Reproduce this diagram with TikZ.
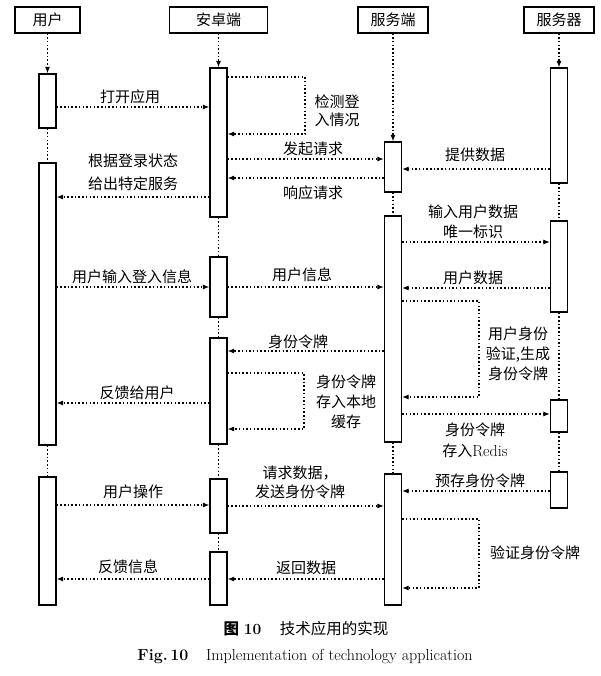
\documentclass[tikz,border=0pt]{standalone}
\usepackage{fontspec}
\newfontfamily\cjk{Noto Sans CJK SC}
\usepackage{tikz}
\usetikzlibrary{arrows.meta}

\begin{document}
\begin{tikzpicture}[x=1pt, y=-1pt,
  head/.style={draw, line width=1.2pt, minimum height=26pt, inner sep=0pt, font=\cjk\fontsize{15}{20}\selectfont},
  act/.style={draw, line width=1.2pt, minimum width=17pt, inner sep=0pt},
  life/.style={line width=1.1pt, dash pattern=on 1.5pt off 2.2pt},
  msg/.style={life, -{Latex[length=6.5pt,width=5pt]}},
  lbl/.style={align=center, inner sep=0pt, font=\cjk\fontsize{15}{20}\selectfont}
]
\useasboundingbox (0,0) rectangle (600,676);
% headers
\node[head, minimum width=65pt](hu) at (47.5,20) {用户};
\node[head, minimum width=98pt](ha) at (218.5,20) {安卓端};
\node[head, minimum width=70pt](hs) at (393,20) {服务端};
\node[head, minimum width=70pt](hr) at (559,20) {服务器};
% activations
\node[act, minimum height=54pt](u1) at (47.5,101) {};
\node[act, minimum height=282pt](u2) at (47.5,304) {};
\node[act, minimum height=128pt](u3) at (47.5,541) {};
\node[act, minimum height=149pt](a1) at (218.5,142.5) {};
\node[act, minimum height=60pt](a2) at (218.5,287) {};
\node[act, minimum height=106pt](a3) at (218.5,391) {};
\node[act, minimum height=54pt](a4) at (218.5,506) {};
\node[act, minimum height=53pt](a5) at (218.5,578.5) {};
\node[act, minimum height=50pt](s1) at (393,167) {};
\node[act, minimum height=226pt](s2) at (393,329) {};
\node[act, minimum height=131pt](s3) at (393,539.5) {};
\node[act, minimum height=115pt](r1) at (559,125.5) {};
\node[act, minimum height=91pt](r2) at (559,266.5) {};
\node[act, minimum height=32pt](r3) at (559,416) {};
\node[act, minimum height=36pt](r4) at (559,490) {};
% lifelines
\foreach \a/\b in {hu/u1, ha/a1, hs/s1, hr/r1}
  \draw[msg] (\a) -- (\b);
\foreach \a/\b in {u1/u2, u2/u3, a1/a2, a2/a3, a3/a4, a4/a5, s1/s2, s2/s3, r1/r2, r2/r3, r3/r4}
  \draw[life] (\a) -- (\b);
% messages
\draw[msg] (u1.east |- 0,107) -- (a1.west |- 0,107);
\node[lbl] at (130,97) {打开应用};
\draw[msg] (a1.east |- 0,77) -- (305,77) -- (305,134) -- (a1.east |- 0,134);
\node[lbl, font=\cjk\fontsize{15}{18}\selectfont] at (337,111) {检测登\\入情况};
\draw[msg] (a1.east |- 0,159) -- (s1.west |- 0,159);
\node[lbl] at (313,149) {发起请求};
\draw[msg] (r1.west |- 0,169) -- (s1.east |- 0,169);
\node[lbl] at (475,155) {提供数据};
\draw[msg] (s1.west |- 0,178) -- (a1.east |- 0,178);
\node[lbl] at (313,193) {响应请求};
\draw[msg] (a1.west |- 0,197) -- (u2.east |- 0,197);
\node[lbl, font=\cjk\fontsize{15}{23}\selectfont] at (133,172) {根据登录状态\\给出特定服务};
\draw[msg] (s2.east |- 0,242) -- (r2.west |- 0,242);
\node[lbl] at (473,222) {输入用户数据\\唯一标识};
\draw[msg] (u2.east |- 0,287) -- (a2.west |- 0,287);
\node[lbl] at (132,277) {用户输入登入信息};
\draw[msg] (a2.east |- 0,287) -- (s2.west |- 0,287);
\node[lbl] at (302,275) {用户信息};
\draw[msg] (r2.west |- 0,288) -- (s2.east |- 0,288);
\node[lbl] at (473,278) {用户数据};
\draw[msg] (s2.east |- 0,301) -- (479,301) -- (479,397) -- (s2.east |- 0,397);
\node[lbl] at (518,353.5) {用户身份\\验证,生成\\身份令牌};
\draw[msg] (s2.west |- 0,351) -- (a3.east |- 0,351);
\node[lbl] at (298,342) {身份令牌};
\draw[msg] (a3.east |- 0,373) -- (304,373) -- (304,429) -- (a3.east |- 0,429);
\node[lbl] at (346,401.5) {身份令牌\\存入本地\\缓存};
\draw[msg] (a3.west |- 0,403) -- (u2.east |- 0,403);
\node[lbl] at (137,393) {反馈给用户};
\draw[msg] (s2.east |- 0,414) -- (r3.west |- 0,414);
\node[lbl, font=\cjk\fontsize{15}{21}\selectfont] at (475,440) {身份令牌\\存入{\rmfamily\fontsize{16}{21}\selectfont Redis}};
\draw[msg] (r4.west |- 0,491) -- (s3.east |- 0,491);
\node[lbl] at (480,481) {预存身份令牌};
\draw[msg] (u3.east |- 0,505) -- (a4.west |- 0,505);
\node[lbl] at (133,492) {用户操作};
\draw[msg] (a4.east |- 0,506) -- (s3.west |- 0,506);
\node[lbl, font=\cjk\fontsize{15}{19}\selectfont] at (300,482.5) {请求数据，\\发送身份令牌};
\draw[msg] (s3.east |- 0,519) -- (479,519) -- (479,588) -- (s3.east |- 0,588);
\node[lbl] at (535,553) {验证身份令牌};
\draw[msg] (s3.west |- 0,579) -- (a5.east |- 0,579);
\node[lbl] at (306,568) {返回数据};
\draw[msg] (a5.west |- 0,579) -- (u3.east |- 0,579);
\node[lbl] at (128,567) {反馈信息};
% caption
\node[font=\fontsize{15.5}{18}\selectfont](cap) at (306,629) {{\cjk\bfseries 图} \textbf{10}\hspace{1.2em}{\cjk 技术应用的实现}};
\node[font=\fontsize{16}{18}\selectfont](capen) at (305,657) {\textbf{Fig.\,10}\hspace{1.1em}Implementation of technology application};
\end{tikzpicture}
\end{document}
